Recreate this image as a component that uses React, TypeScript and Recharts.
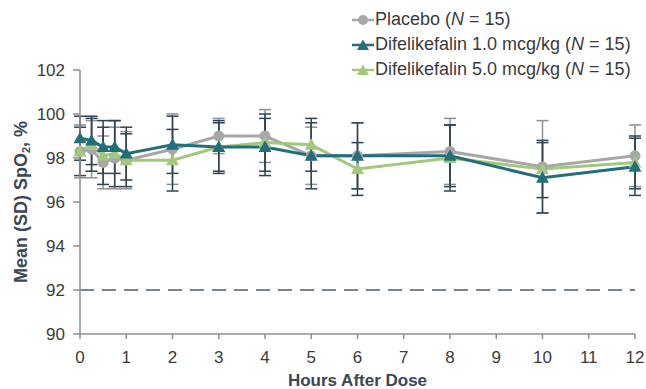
import React from 'react';
import { LineChart, Line, XAxis, YAxis, ErrorBar, ReferenceLine, Label } from 'recharts';

const hours = [0, 0.25, 0.5, 0.75, 1, 2, 3, 4, 5, 6, 8, 10, 12];
const placebo = [98.3, 98.4, 97.8, 98.0, 97.9, 98.4, 99.0, 99.0, 98.1, 98.1, 98.3, 97.6, 98.1];
const placeboSd = [1.2, 1.3, 1.2, 1.4, 1.3, 1.6, 0.8, 1.2, 1.3, 1.5, 1.5, 2.1, 1.4];
const dife10 = [98.9, 98.8, 98.5, 98.5, 98.2, 98.6, 98.5, 98.5, 98.1, 98.1, 98.1, 97.1, 97.6];
const dife10Sd = [1.0, 1.1, 1.2, 1.2, 1.2, 1.3, 1.1, 1.3, 1.5, 1.5, 1.4, 1.6, 1.3];
const dife50 = [98.3, 98.6, 98.1, 98.2, 97.9, 97.9, 98.5, 98.7, 98.6, 97.5, 98.0, 97.5, 97.8];
const dife50Sd = [1.1, 1.2, 1.3, 1.5, 1.2, 1.4, 1.2, 1.3, 1.2, 1.2, 1.5, 1.3, 1.2];
const xTicks = [0, 1, 2, 3, 4, 5, 6, 7, 8, 9, 10, 11, 12];
const yTicks = [90, 92, 94, 96, 98, 100, 102];
const spo2Threshold = 92;

const GRAY = '#a7a7a7';
const TEAL = '#236f79';
const GREEN = '#a2c87e';
const BAR_DARK = '#2f4352';
const TEXT = '#3b3b3b';
const LABEL = '#3a4752';
const AXIS = '#8f8f8f';
const FONT = '"Liberation Sans", Arial, sans-serif';

const data = hours.map((h, i) => ({
  h,
  placebo: placebo[i],
  placeboSd: placeboSd[i],
  dife10: dife10[i],
  dife10Sd: dife10Sd[i],
  dife50: dife50[i],
  dife50Sd: dife50Sd[i],
}));

const triangle = (color: string) => (props: any) => {
  const { cx, cy, index } = props;
  if (cx == null || cy == null) return <g key={index} />;
  return (
    <polygon
      key={index}
      points={`${cx},${cy - 6.5} ${cx - 6.5},${cy + 5} ${cx + 6.5},${cy + 5}`}
      fill={color}
    />
  );
};

const YTitle = (props: any) => {
  const vb = props.viewBox || {};
  const cy = vb.y + vb.height / 2;
  const cx = 21;
  return (
    <text
      x={cx}
      y={cy}
      transform={`rotate(-90 ${cx} ${cy})`}
      textAnchor="middle"
      fontFamily={FONT}
      fontSize={18}
      fontWeight="bold"
      fill={LABEL}
      dominantBaseline="central"
    >
      Mean (SD) SpO<tspan dy={5} fontSize={11}>2</tspan>
      <tspan dy={-5}>, %</tspan>
    </text>
  );
};

const XTitle = (props: any) => {
  const vb = props.viewBox || {};
  return (
    <text
      x={vb.x + vb.width / 2}
      y={386}
      textAnchor="middle"
      fontFamily={FONT}
      fontSize={17}
      fontWeight="bold"
      fill={LABEL}
    >
      Hours After Dose
    </text>
  );
};

const LegendKey = ({ color, shape }: { color: string; shape: 'circle' | 'triangle' }) => (
  <svg width={22} height={16} style={{ marginRight: 1 }}>
    <line x1={0} y1={8} x2={22} y2={8} stroke={color} strokeWidth={2.5} />
    {shape === 'circle' ? (
      <circle cx={11} cy={8} r={5} fill={color} />
    ) : (
      <polygon points="11,2.5 5,13 17,13" fill={color} />
    )}
  </svg>
);

const legendItems = [
  { name: 'Placebo', color: GRAY, shape: 'circle' as const },
  { name: 'Difelikefalin 1.0 mcg/kg', color: TEAL, shape: 'triangle' as const },
  { name: 'Difelikefalin 5.0 mcg/kg', color: GREEN, shape: 'triangle' as const },
];

export default function App() {
  return (
    <div style={{ position: 'absolute', left: 0, top: 0, width: 646, height: 389, background: '#fff' }}>
      <LineChart width={646} height={389} data={data} margin={{ top: 70, right: 11, bottom: 0, left: 0 }}>
        <XAxis
          dataKey="h"
          type="number"
          domain={[0, 12]}
          ticks={xTicks}
          interval={0}
          height={55}
          stroke={AXIS}
          strokeWidth={1.5}
          tickSize={5}
          tickMargin={12}
          tick={{ fill: TEXT, fontSize: 17, fontFamily: FONT }}
        >
          <Label content={<XTitle />} />
        </XAxis>
        <YAxis
          type="number"
          domain={[90, 102]}
          ticks={yTicks}
          interval={0}
          width={80}
          stroke={AXIS}
          strokeWidth={1.5}
          tickSize={7}
          tickMargin={8}
          tick={{ fill: TEXT, fontSize: 17, fontFamily: FONT }}
        >
          <Label content={<YTitle />} />
        </YAxis>
        <ReferenceLine y={spo2Threshold} stroke="#4e5f6c" strokeWidth={1.5} strokeDasharray="14 8" />
        <Line
          dataKey="placebo"
          stroke={GRAY}
          strokeWidth={3}
          isAnimationActive={false}
          dot={{ r: 5.5, fill: GRAY, stroke: 'none' }}
        >
          <ErrorBar dataKey="placeboSd" direction="y" width={6} stroke="#8a9299" strokeWidth={1.5} />
        </Line>
        <Line
          dataKey="dife50"
          stroke={GREEN}
          strokeWidth={3}
          isAnimationActive={false}
          dot={triangle(GREEN)}
        >
          <ErrorBar dataKey="dife50Sd" direction="y" width={6} stroke={BAR_DARK} strokeWidth={1.5} />
        </Line>
        <Line
          dataKey="dife10"
          stroke={TEAL}
          strokeWidth={3}
          isAnimationActive={false}
          dot={triangle(TEAL)}
        >
          <ErrorBar dataKey="dife10Sd" direction="y" width={6} stroke={BAR_DARK} strokeWidth={1.5} />
        </Line>
      </LineChart>
      <div
        style={{
          position: 'absolute',
          left: 352,
          top: 7,
          fontFamily: FONT,
          fontSize: 18,
          color: TEXT,
          lineHeight: '25px',
        }}
      >
        {legendItems.map((it) => (
          <div key={it.name} style={{ display: 'flex', alignItems: 'center', whiteSpace: 'nowrap' }}>
            <LegendKey color={it.color} shape={it.shape} />
            <span>
              {it.name} (<i>N</i> = 15)
            </span>
          </div>
        ))}
      </div>
    </div>
  );
}
